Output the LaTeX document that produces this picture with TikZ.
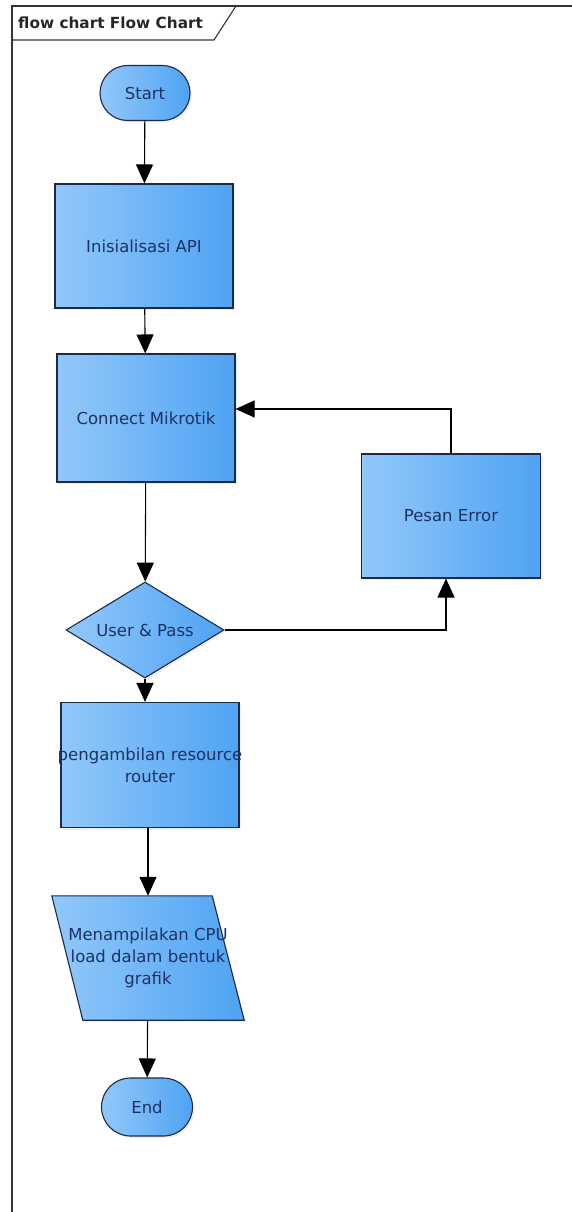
\documentclass[tikz,border=0pt]{standalone}
\usepackage{fontspec}
\setmainfont{DejaVu Sans}
\usetikzlibrary{shapes.geometric,shapes.misc,arrows.meta,shadows,backgrounds}
\definecolor{fillL}{HTML}{92C8FA}
\definecolor{fillR}{HTML}{4FA3F3}
\definecolor{edge}{HTML}{1C2A48}
\definecolor{txt}{HTML}{1E3264}
\tikzset{
  skin/.style={draw=edge, line width=1.1pt, left color=fillL, right color=fillR,
    drop shadow={shadow xshift=2pt,shadow yshift=-2pt,opacity=0.12}},
  blk/.style={skin, text=txt, font=\fontsize{16.5}{22}\selectfont, align=center, inner sep=0pt},
  procbox/.style={blk, rectangle, minimum width=#1, minimum height=124pt},
  termbox/.style={blk, rounded rectangle, minimum width=90pt, minimum height=55pt},
  decbox/.style={blk, diamond, minimum width=158pt, minimum height=96pt, aspect=1.65},
  iotext/.style={text=txt, font=\fontsize{16.5}{22}\selectfont, align=center, inner sep=0pt,
     rectangle, minimum width=160pt, minimum height=124pt},
  flow/.style={draw=black, line width=1.1pt, -{Triangle[width=17pt,length=19pt]}},
}
\begin{document}
\begin{tikzpicture}[x=1pt,y=-1pt]
\useasboundingbox (0,0) rectangle (571,1212);
% frame
\draw[line width=1.1pt, draw=black!80] (12,1213) -- (12,6) -- (572,6);
\node[draw=none, anchor=west, font=\bfseries\fontsize{15.3}{17}\selectfont, text=black!85, inner sep=0pt] (title) at (18,23) {flow chart Flow Chart};
\draw[line width=1.1pt, draw=black!80] (12,40) -- (214,40) -- (236,6);

\node[termbox] (start) at (145,93) {Start};
\node[procbox=178pt] (init) at (144,246) {Inisialisasi API};
\node[procbox=178pt, minimum height=128pt] (conn) at (146,418) {Connect Mikrotik};
\node[procbox=179pt] (err) at (451,516) {Pesan Error};
\node[decbox] (dec) at (145,630) {User \& Pass};
\node[procbox=178pt, minimum height=125pt] (amb) at (150,765) {\makebox[0pt]{pengambilan resource}\\router};
\node[iotext] (show) at (148,958) {\makebox[0pt]{Menampilakan CPU}\\\makebox[0pt]{load dalam bentuk}\\grafik};
\begin{scope}[on background layer]
  \path[skin] ([xshift=-16pt]show.north west) -- ([xshift=-16pt]show.north east)
     -- ([xshift=16pt]show.south east) -- ([xshift=15pt]show.south west) -- cycle;
\end{scope}
\node[termbox, minimum width=91pt, minimum height=58pt] (end) at (147,1107) {End};

\coordinate (c1) at (451,409);
\coordinate (c2) at (446,630);

\draw[flow] (start) -- (init);
\draw[flow] (init) -- (conn);
\draw[flow] (conn) -- (dec);
\draw[flow] (dec) -- (amb.north -| dec.south);
\draw[flow] (amb.south -| show) -- (show);
\draw[flow] (show) -- (end);
\draw[flow] (err.north) -- (c1) -- (conn.east |- c1);
\draw[flow] (dec.east) -- (c2) -- (err.south -| c2);
\end{tikzpicture}
\end{document}
